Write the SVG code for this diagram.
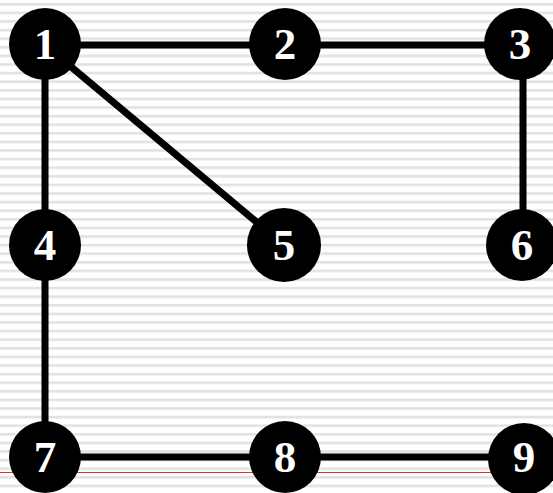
<svg xmlns="http://www.w3.org/2000/svg" width="553" height="493" viewBox="0 0 553 493">
<defs>
<pattern id="stripes" x="0" y="3" width="553" height="8.6" patternUnits="userSpaceOnUse">
<rect x="0" y="0" width="553" height="2.6" fill="#e2e2e2"/>
</pattern>
<style>
.edge{stroke:#000;stroke-width:7;fill:none}
.node circle{fill:#000}
.node text{fill:#fff;font-family:"Liberation Serif","Times New Roman",serif;font-weight:bold;font-size:45px;text-anchor:middle}
</style>
</defs>
<rect width="553" height="493" fill="#fff"/>
<rect width="553" height="493" fill="url(#stripes)"/>
<line x1="0" y1="472.5" x2="553" y2="472.5" stroke="#e03030" stroke-width="1"/>
<g id="connectors">
<line class="edge" x1="45" y1="45" x2="285" y2="45"/>
<line class="edge" x1="285" y1="45" x2="520" y2="45"/>
<line class="edge" x1="45" y1="45" x2="284" y2="245"/>
<line class="edge" x1="45" y1="45" x2="45" y2="245"/>
<line class="edge" x1="523" y1="45" x2="523" y2="245"/>
<line class="edge" x1="45" y1="245" x2="45" y2="457"/>
<line class="edge" x1="45" y1="457" x2="523" y2="457"/>
</g>
<g id="n1" class="node"><circle cx="45" cy="44" r="36"/><text x="45" y="59">1</text></g>
<g id="n2" class="node"><circle cx="285" cy="44" r="36"/><text x="285" y="59">2</text></g>
<g id="n3" class="node"><circle cx="520" cy="44" r="36"/><text x="520" y="59">3</text></g>
<g id="n4" class="node"><circle cx="45" cy="245" r="36"/><text x="45" y="260">4</text></g>
<g id="n5" class="node"><circle cx="284" cy="245" r="37"/><text x="284" y="260">5</text></g>
<g id="n6" class="node"><circle cx="522" cy="245" r="36"/><text x="522" y="260">6</text></g>
<g id="n7" class="node"><circle cx="45" cy="457" r="36"/><text x="45" y="472">7</text></g>
<g id="n8" class="node"><circle cx="285" cy="457" r="36"/><text x="285" y="472">8</text></g>
<g id="n9" class="node"><circle cx="524" cy="459" r="36"/><text x="524" y="472">9</text></g>
</svg>
